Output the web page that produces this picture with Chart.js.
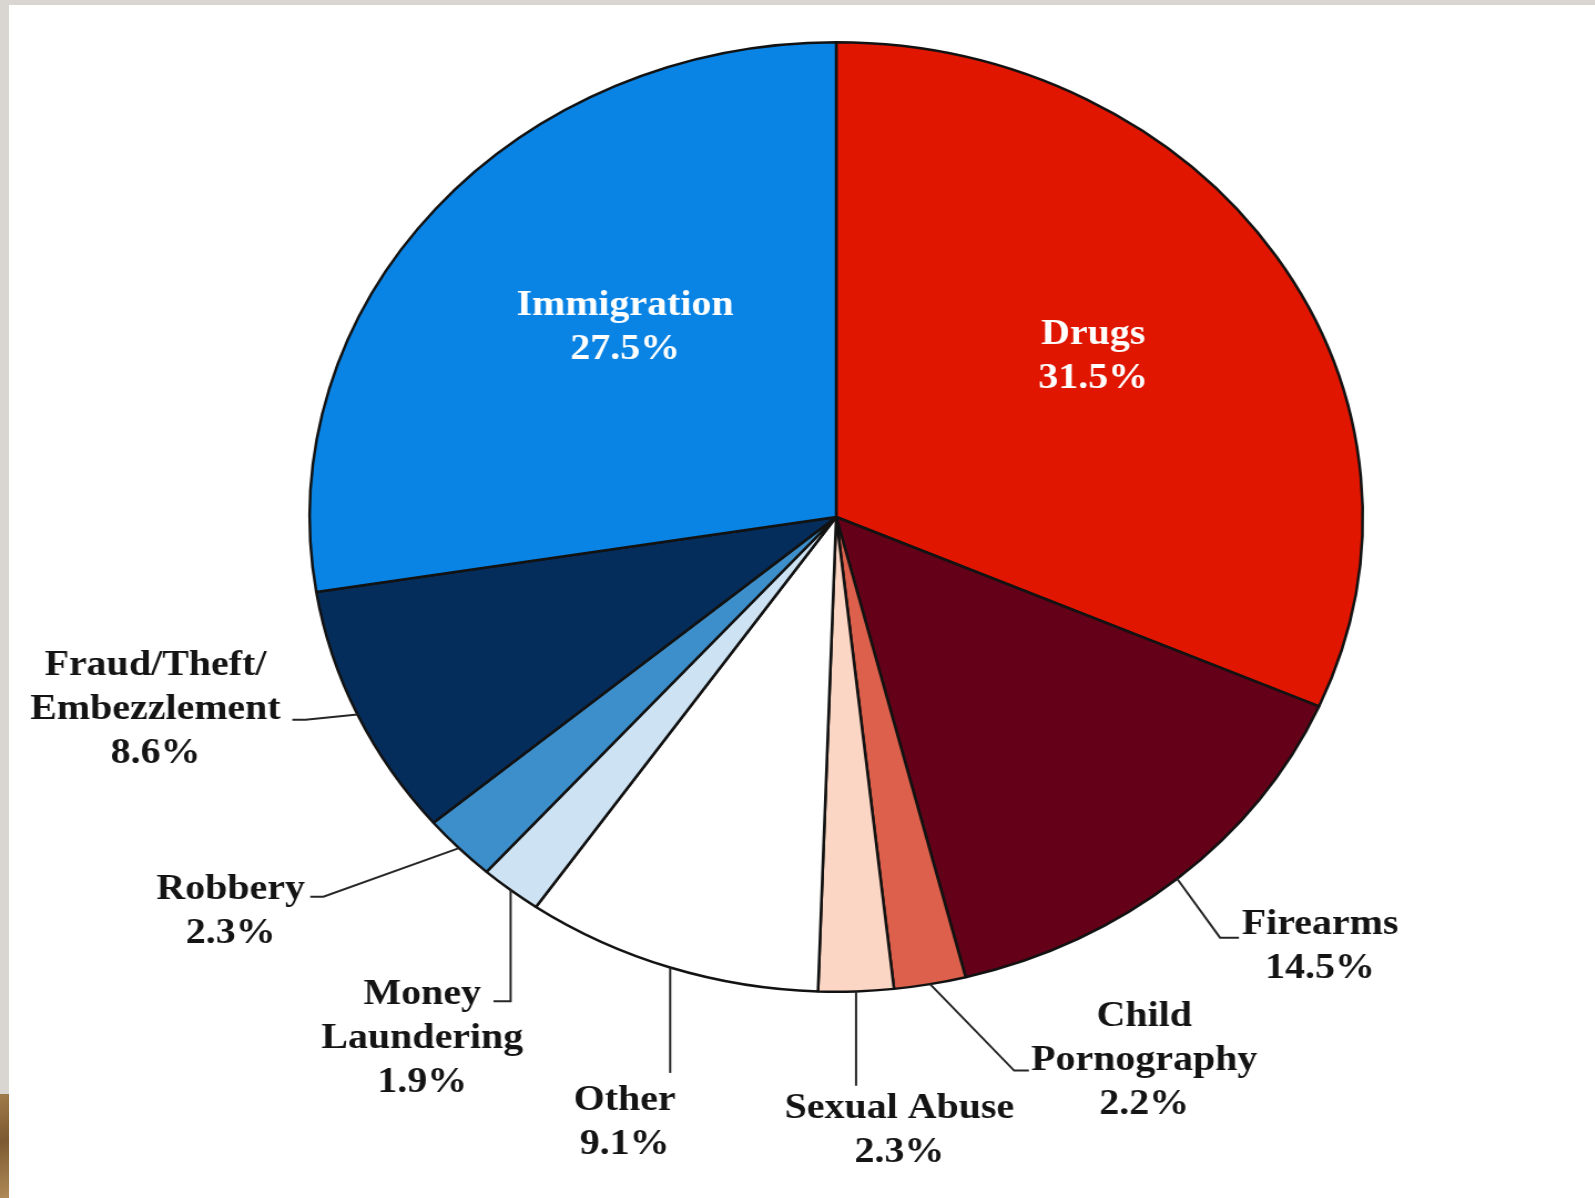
<!DOCTYPE html>
<html>
<head>
<meta charset="utf-8">
<script src="https://cdn.jsdelivr.net/npm/chart.js@4.4.1/dist/chart.umd.min.js"></script>
<style>
  html, body { margin: 0; padding: 0; width: 1595px; height: 1198px; overflow: hidden; background: #d9d6d1; }
  #paper { position: absolute; left: 9px; top: 5px; right: 0; bottom: 0; background: #ffffff; }
  #wood { position: absolute; left: 0; top: 1094px; width: 9px; height: 104px;
          background: linear-gradient(160deg, #a07b4a 0%, #7d5a31 45%, #b08a57 100%); }
  /* the source picture is stretched sideways, so the whole chart is too */
  #wrap { position: absolute; left: 0; top: 0; width: 1438px; height: 1198px;
          transform: scaleX(1.109); transform-origin: 0 0; }
</style>
</head>
<body>
<div id="paper"></div>
<div id="wood"></div>
<div id="wrap"><canvas id="pieChart"></canvas></div>
<script>
// clockwise from 12 o'clock
const categories = ['Drugs', 'Firearms', 'Child\nPornography', 'Sexual Abuse', 'Other',
    'Money\nLaundering', 'Robbery', 'Fraud/Theft/\nEmbezzlement', 'Immigration'];
const shares = [31.5, 14.5, 2.2, 2.3, 9.1, 1.9, 2.3, 8.6, 27.5];
const sliceColors = ['#e01600', '#640018', '#dc604c', '#fcd6c4', '#ffffff',
    '#cde2f2', '#3d8fcb', '#052d5c', '#0a84e4'];

// label placement, in units of the pie radius from its centre
const labelLayout = [
    { u: 0.488, v: -0.385, color: '#ffffff' },
    { at: 0.5, leader: [[0.729, 0.886], [0.765, 0.886]], u: 0.919, v: 0.859 },
    { at: 0.5, leader: [[0.338, 1.166], [0.366, 1.166]], u: 0.585, v: 1.053 },
    { at: 0.5, leader: [[null, 1.198]], u: 0.120, v: 1.246 },
    { at: 0.5, leader: [[null, 1.171]], u: -0.402, v: 1.230 },
    { at: 0.5, leader: [[null, 1.02], [-0.651, 1.02]], u: -0.786, v: 1.006 },
    { at: 0.5, leader: [[-0.974, 0.80], [-0.999, 0.80]], u: -1.150, v: 0.785 },
    { at: 0.5, leader: [[-1.008, 0.427], [-1.033, 0.427]], u: -1.293, v: 0.314 },
    { u: -0.401, v: -0.446, color: '#ffffff' }
];

const sliceLabels = {
    id: 'sliceLabels',
    afterDraw(chart) {
        const ctx = chart.ctx;
        const arcs = chart.getDatasetMeta(0).data;
        ctx.save();
        ctx.font = 'bold 36px "Liberation Serif", "Times New Roman", serif';
        ctx.textAlign = 'center';
        ctx.textBaseline = 'middle';
        arcs.forEach((arc, i) => {
            const cfg = labelLayout[i];
            const r = arc.outerRadius;
            const cx = arc.x, cy = arc.y;
            if (cfg.leader) {
                const a = arc.startAngle + (arc.endAngle - arc.startAngle) * cfg.at;
                let px = cx + r * Math.cos(a), py = cy + r * Math.sin(a);
                ctx.beginPath();
                ctx.moveTo(px, py);
                cfg.leader.forEach(([u, v]) => {
                    px = u === null ? px : cx + u * r;
                    py = cy + v * r;
                    ctx.lineTo(px, py);
                });
                ctx.strokeStyle = '#262626';
                ctx.lineWidth = 2;
                ctx.stroke();
            }
            const lines = categories[i].split('\n').concat(shares[i].toFixed(1) + '%');
            ctx.fillStyle = cfg.color || '#141414';
            lines.forEach((t, k) => {
                ctx.fillText(t, cx + cfg.u * r, cy + cfg.v * r + k * 44);
            });
        });
        ctx.restore();
    }
};

new Chart(document.getElementById('pieChart'), {
    type: 'pie',
    data: {
        labels: categories,
        datasets: [{
            data: shares,
            backgroundColor: sliceColors,
            borderColor: '#121212',
            borderWidth: 2.5,
            hoverOffset: 0
        }]
    },
    options: {
        responsive: true,
        maintainAspectRatio: false,
        animation: false,
        layout: {
            padding: { top: 41, bottom: 205, left: 70, right: 0 }
        },
        plugins: {
            legend: { display: false },
            tooltip: { enabled: false }
        }
    },
    plugins: [sliceLabels]
});
</script>
</body>
</html>
